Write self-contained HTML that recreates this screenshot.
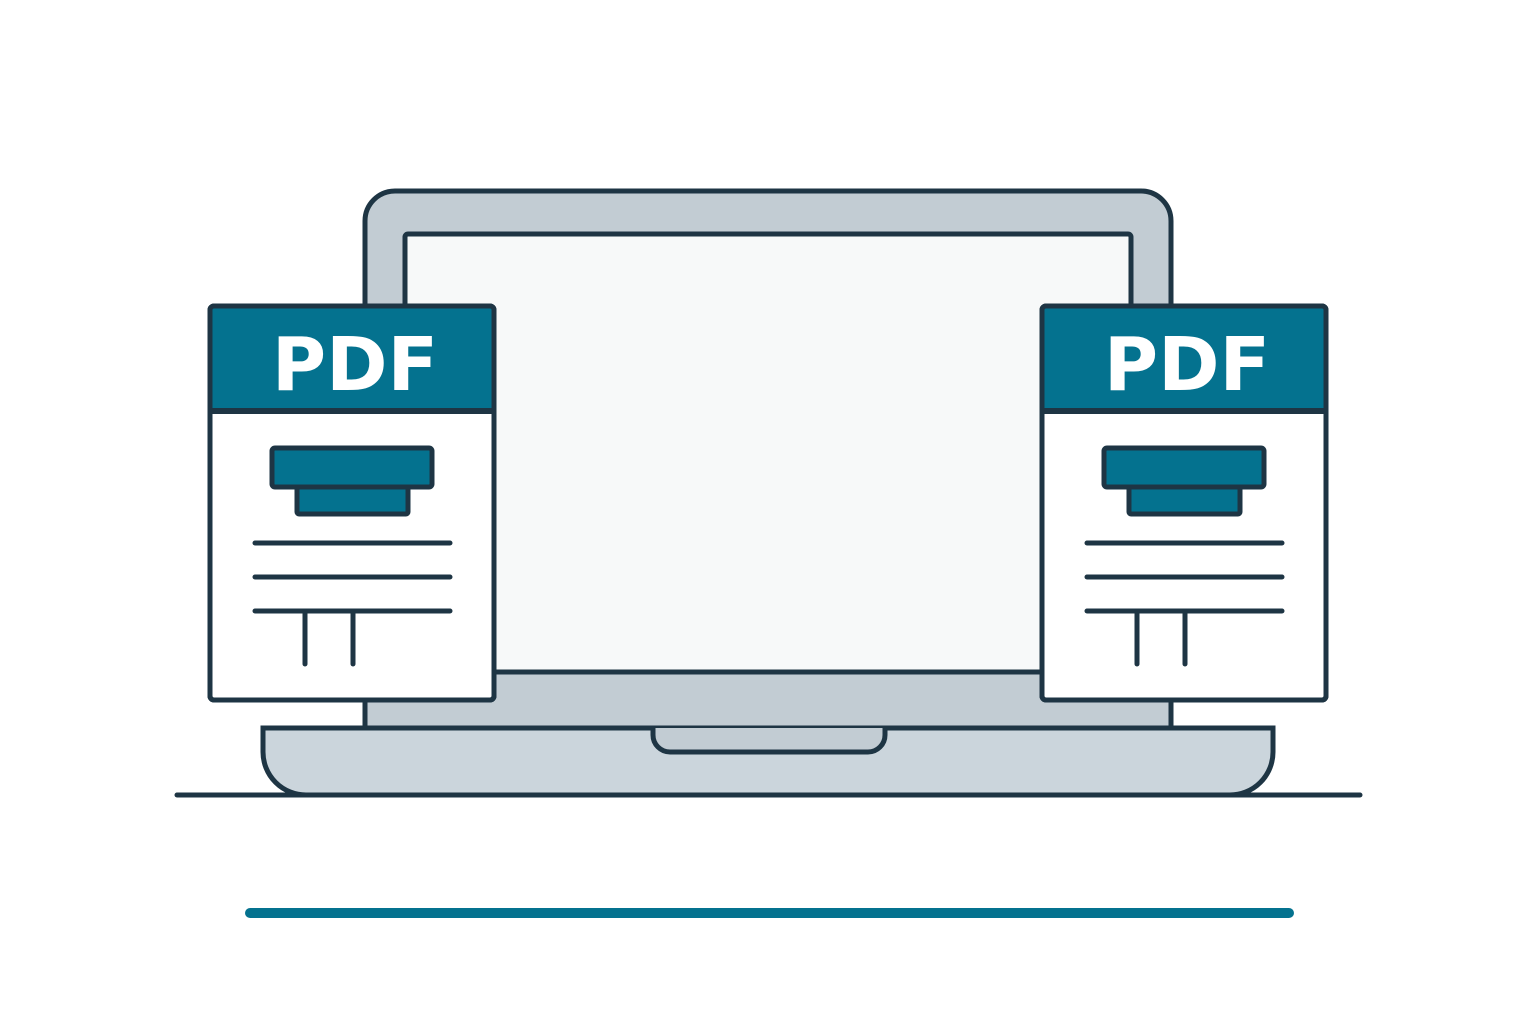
<!DOCTYPE html>
<html><head><style>html,body{margin:0;padding:0;background:#fff;}svg{display:block}</style></head>
<body>
<svg width="1536" height="1024" viewBox="0 0 1536 1024" xmlns="http://www.w3.org/2000/svg">
<defs>
<g id="doc">
  <rect x="210" y="306" width="284" height="394" rx="4" fill="#fff" stroke="#1e3544" stroke-width="5"/>
  <rect x="212" y="308" width="280" height="103" fill="#04728f"/>
  <line x1="210" y1="411" x2="494" y2="411" stroke="#1e3544" stroke-width="6"/>
  <rect x="210" y="306" width="284" height="394" rx="4" fill="none" stroke="#1e3544" stroke-width="5"/>
  <text x="355" y="390" text-anchor="middle" font-family="'DejaVu Sans','Liberation Sans',sans-serif" font-weight="bold" font-size="74" fill="#fff">PDF</text>
  <rect x="297" y="485" width="111" height="29" rx="2" fill="#04728f" stroke="#1e3544" stroke-width="5"/>
  <rect x="272" y="448" width="160" height="39" rx="3" fill="#04728f" stroke="#1e3544" stroke-width="5"/>
  <g stroke="#1e3544" stroke-width="5" stroke-linecap="round">
    <line x1="255" y1="543" x2="450" y2="543"/>
    <line x1="255" y1="577" x2="450" y2="577"/>
    <line x1="255" y1="611" x2="450" y2="611"/>
    <line x1="305" y1="611" x2="305" y2="664"/>
    <line x1="353" y1="611" x2="353" y2="664"/>
  </g>
</g>
</defs>
<!-- lid -->
<path d="M365 728 V221 a30 30 0 0 1 30 -30 H1141 a30 30 0 0 1 30 30 V728 Z" fill="#c2ccd3" stroke="#1e3544" stroke-width="5"/>
<rect x="405" y="234" width="726" height="438" rx="3" fill="#f7f9f9" stroke="#1e3544" stroke-width="5"/>
<!-- base -->
<path d="M263 728 H1273 V752 a43 43 0 0 1 -43 43 H306 a43 43 0 0 1 -43 -43 Z" fill="#cbd5dc" stroke="#1e3544" stroke-width="5"/>
<path d="M653 728 V735 a17 17 0 0 0 17 17 H868 a17 17 0 0 0 17 -17 V728" fill="#c2ccd3" stroke="#1e3544" stroke-width="5"/>
<line x1="177" y1="795" x2="1360" y2="795" stroke="#1e3544" stroke-width="5" stroke-linecap="round"/>
<use href="#doc"/>
<use href="#doc" transform="translate(832,0)"/>
<line x1="250" y1="913" x2="1289" y2="913" stroke="#04728f" stroke-width="10" stroke-linecap="round"/>
</svg>
</body></html>
